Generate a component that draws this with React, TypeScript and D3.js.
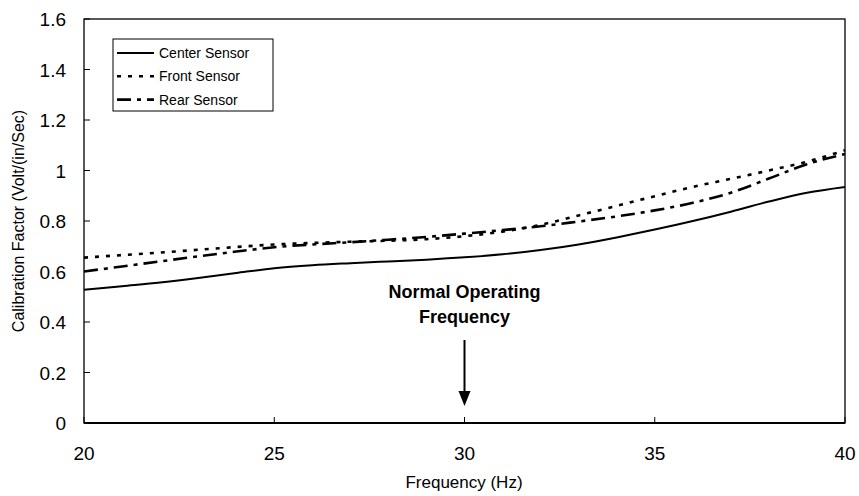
import React from "react";
import * as d3 from "d3";

const freqs = [20, 21, 22, 23, 24, 25, 26, 27, 28, 29, 30, 31, 32, 33, 34, 35, 36, 37, 38, 39, 40];
const centerSensor = [0.528, 0.542, 0.556, 0.574, 0.594, 0.613, 0.625, 0.633, 0.64, 0.647, 0.656, 0.668, 0.685, 0.707, 0.735, 0.766, 0.8, 0.837, 0.877, 0.912, 0.935];
const frontSensor = [0.655, 0.665, 0.675, 0.686, 0.697, 0.707, 0.713, 0.718, 0.722, 0.728, 0.74, 0.758, 0.785, 0.822, 0.86, 0.898, 0.935, 0.967, 1.0, 1.035, 1.08];
const rearSensor = [0.6, 0.62, 0.64, 0.66, 0.679, 0.696, 0.707, 0.716, 0.726, 0.737, 0.75, 0.764, 0.779, 0.798, 0.818, 0.842, 0.872, 0.912, 0.968, 1.025, 1.065];
const xTicks = [20, 25, 30, 35, 40];
const yTicks = [0, 0.2, 0.4, 0.6, 0.8, 1, 1.2, 1.4, 1.6];
const seriesNames = ["Center Sensor", "Front Sensor", "Rear Sensor"];
const annotationLines = ["Normal Operating", "Frequency"];
const annotationFreq = 30;

const W = 859;
const H = 496;
const M = { left: 84, right: 845, top: 19, bottom: 423 };
const FONT = "Arial, 'Liberation Sans', sans-serif";

export default function App() {
  const x = d3.scaleLinear().domain([20, 40]).range([M.left, M.right]);
  const y = d3.scaleLinear().domain([0, 1.6]).range([M.bottom, M.top]);
  const line = d3
    .line<number>()
    .x((_, i) => x(freqs[i]))
    .y((d) => y(d))
    .curve(d3.curveMonotoneX);

  const styles = [
    { data: centerSensor, dash: "none", w: 2 },
    { data: frontSensor, dash: "4,7", w: 2.6 },
    { data: rearSensor, dash: "14,6,4,6", w: 2.6 },
  ];

  const ax = x(annotationFreq);

  return (
    <svg width={W} height={H} style={{ position: "absolute", left: 0, top: 0 }}>
      <rect x={0} y={0} width={W} height={H} fill="#fff" />
      {/* plot frame */}
      <rect x={M.left} y={M.top} width={M.right - M.left} height={M.bottom - M.top} fill="none" stroke="#000" strokeWidth={1.3} />
      {/* y ticks */}
      {yTicks.map((t) => (
        <g key={"y" + t}>
          <line x1={M.left} x2={M.left + 6} y1={y(t)} y2={y(t)} stroke="#000" strokeWidth={1} />
          <text x={66} y={y(t) + 7} textAnchor="end" fontFamily={FONT} fontSize={19}>
            {d3.format("")(t)}
          </text>
        </g>
      ))}
      {/* x ticks */}
      {xTicks.map((t) => (
        <g key={"x" + t}>
          <line x1={x(t)} x2={x(t)} y1={M.bottom} y2={M.bottom - 6} stroke="#000" strokeWidth={1} />
          <text x={x(t)} y={460} textAnchor="middle" fontFamily={FONT} fontSize={19}>
            {t}
          </text>
        </g>
      ))}
      <line x1={M.left} x2={M.right} y1={M.bottom} y2={M.bottom} stroke="#000" strokeWidth={2} />
      {/* series */}
      {styles.map((s, i) => (
        <path
          key={i}
          d={line(s.data) || ""}
          fill="none"
          stroke="#000"
          strokeWidth={s.w}
          strokeDasharray={s.dash}
        />
      ))}
      {/* legend */}
      <rect x={113} y={39} width={160} height={72} fill="#fff" stroke="#000" strokeWidth={1} />
      {seriesNames.map((n, i) => (
        <g key={n}>
          <line
            x1={117}
            x2={154}
            y1={53 + i * 23.3}
            y2={53 + i * 23.3}
            stroke="#000"
            strokeWidth={styles[i].w}
            strokeDasharray={styles[i].dash}
          />
          <text x={159} y={58 + i * 23.3} fontFamily={FONT} fontSize={14}>
            {n}
          </text>
        </g>
      ))}
      {/* annotation */}
      {annotationLines.map((l, i) => (
        <text key={l} x={ax} y={298 + i * 25} textAnchor="middle" fontFamily={FONT} fontSize={18} fontWeight="bold">
          {l}
        </text>
      ))}
      <line x1={ax} x2={ax} y1={340} y2={393} stroke="#000" strokeWidth={2} />
      <path d={`M${ax - 6},${391} L${ax + 6},${391} L${ax},${406} Z`} fill="#000" />
      {/* axis titles */}
      <text x={464} y={488} textAnchor="middle" fontFamily={FONT} fontSize={17}>
        Frequency (Hz)
      </text>
      <text
        transform={`translate(24,${(M.top + M.bottom) / 2}) rotate(-90)`}
        textAnchor="middle"
        fontFamily={FONT}
        fontSize={16}
      >
        Calibration Factor (Volt/(in/Sec)
      </text>
    </svg>
  );
}
